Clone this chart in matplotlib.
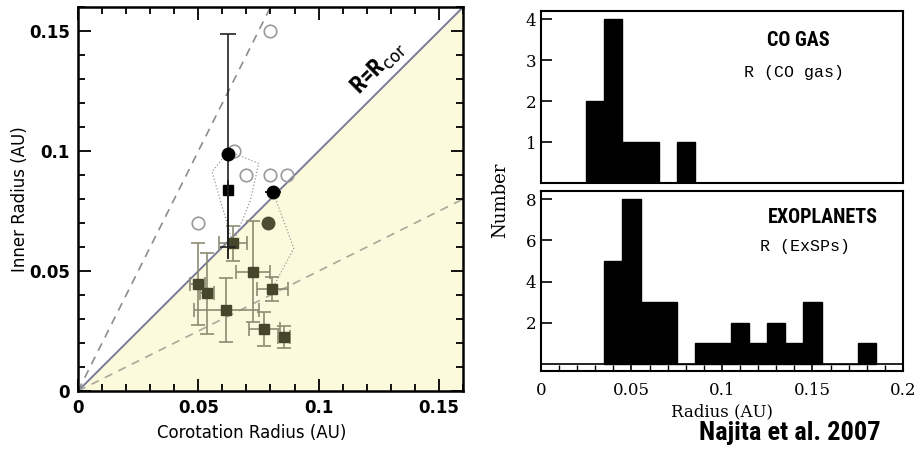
import matplotlib
matplotlib.use("Agg")
import matplotlib.pyplot as plt
import numpy as np
from matplotlib.ticker import MultipleLocator
from matplotlib import font_manager

# ---------------- data: left panel (corotation vs inner radius, AU)
open_x = [0.080, 0.065, 0.070, 0.080, 0.087, 0.050]
open_y = [0.150, 0.100, 0.090, 0.090, 0.090, 0.070]

black_circ_x = [0.0625, 0.081]
black_circ_y = [0.099, 0.083]
black_circ_ylo = [0.039, 0.0]
black_circ_yhi = [0.050, 0.0]

black_sq_x = [0.0625]
black_sq_y = [0.084]
black_sq_ylo = [0.029]
black_sq_yhi = [0.004]

olive_circ_x = [0.079]
olive_circ_y = [0.070]

olive_sq_x = [0.0644, 0.0728, 0.0807, 0.0497, 0.0536, 0.0617, 0.0775, 0.0855]
olive_sq_y = [0.0615, 0.0497, 0.0425, 0.0445, 0.0407, 0.0338, 0.0258, 0.0226]
olive_sq_xerr = [0.0059, 0.0070, 0.0064, 0.0030, 0.0030, 0.0134, 0.0066, 0.0025]
olive_sq_yerr = [0.0075, 0.0210, 0.0050, 0.0170, 0.0170, 0.0135, 0.0070, 0.0045]

# dotted outlines joining measurements of the same stars
poly1_x = [0.0644, 0.0557, 0.0625, 0.0751, 0.0717, 0.0644]
poly1_y = [0.0615, 0.0914, 0.1000, 0.0949, 0.0796, 0.0615]
poly2_x = [0.081, 0.0897, 0.0807]
poly2_y = [0.083, 0.0595, 0.0425]

# ---------------- data: right panels (histograms, bin width 0.01 AU)
co_centers = [0.03, 0.04, 0.05, 0.06, 0.07, 0.08]
co_counts = [2, 4, 1, 1, 0, 1]
exo_centers = [0.04, 0.05, 0.06, 0.07, 0.08, 0.09, 0.10, 0.11, 0.12, 0.13,
               0.14, 0.15, 0.16, 0.17, 0.18]
exo_counts = [5, 8, 3, 3, 0, 1, 1, 2, 1, 2, 1, 3, 0, 0, 1]

# pick a narrow bold face if one is around
installed = {f.name for f in font_manager.fontManager.ttflist}
narrow = next((n for n in ["Liberation Sans Narrow", "DejaVu Sans Condensed",
                           "Roboto Condensed", "Open Sans Condensed"]
               if n in installed), "DejaVu Sans")

fig = plt.figure(figsize=(9.21, 4.51), dpi=100)

############## left panel
ax = fig.add_axes([0.0847, 0.133, 0.418, 0.851])
lim = 0.16
xx = np.array([0, lim])
ax.fill_between(xx, 0, xx, color="#fcfadc", zorder=0)
ax.plot(xx, xx, color="#7b7b98", lw=1.4, zorder=1)
ax.plot(xx / 2.0, xx, color="#8c8c8c", lw=1.2, ls=(0, (5, 4)), zorder=1)
ax.plot(xx, xx / 2.0, color="#a8a89a", lw=1.2, ls=(0, (5, 4)), zorder=1)

ax.plot(poly1_x, poly1_y, color="#999999", lw=0.9, ls=":", zorder=2)
ax.plot(poly2_x, poly2_y, color="#999999", lw=0.9, ls=":", zorder=2)

ax.errorbar(olive_sq_x, olive_sq_y, xerr=olive_sq_xerr, yerr=olive_sq_yerr,
            fmt="s", ms=7, color="#46462c", ecolor="#8c8c74", elinewidth=1.2,
            capsize=5, capthick=1.2, zorder=3)
ax.plot(olive_circ_x, olive_circ_y, "o", ms=9, color="#4d4d33", zorder=4)
ax.errorbar(black_sq_x, black_sq_y, yerr=[black_sq_ylo, black_sq_yhi],
            fmt="s", ms=7, color="black", ecolor="black", elinewidth=1.2,
            capsize=0, zorder=4)
ax.errorbar(black_circ_x, black_circ_y, yerr=[black_circ_ylo, black_circ_yhi],
            fmt="o", ms=9, color="black", ecolor="#222222", elinewidth=1.2,
            capsize=6, capthick=1.2, zorder=5)
ax.plot(open_x, open_y, "o", ms=9, mfc="none", mec="#9a9a9a", mew=1.2, zorder=4)

ax.text(0.125, 0.135, r"R=R$_{\rm cor}$", rotation=45, fontsize=17,
        fontweight="bold", ha="center", va="center", family=narrow)

ax.set_xlim(0, lim)
ax.set_ylim(0, lim)
ax.xaxis.set_minor_locator(MultipleLocator(0.01))
ax.yaxis.set_minor_locator(MultipleLocator(0.01))
ax.tick_params(which="both", direction="in", top=True, right=True, width=1.3)
ax.tick_params(which="major", length=9, labelsize=12, pad=6)
ax.tick_params(which="minor", length=5)
ax.set_xticks([0, 0.05, 0.1, 0.15])
ax.set_xticklabels(["0", "0.05", "0.1", "0.15"])
ax.set_yticks([0, 0.05, 0.1, 0.15])
ax.set_yticklabels(["0", "0.05", "0.1", "0.15"])
for lab in ax.get_xticklabels() + ax.get_yticklabels():
    lab.set_fontweight("bold")
for s in ax.spines.values():
    s.set_linewidth(1.8)
ax.set_xlabel("Corotation Radius (AU)", fontsize=12, labelpad=5)
ax.xaxis.label.set_x(0.45)
ax.set_ylabel("Inner Radius (AU)", fontsize=12, labelpad=0)

############## right panels
axt = fig.add_axes([0.5874, 0.594, 0.393, 0.382])
axb = fig.add_axes([0.5874, 0.1774, 0.393, 0.3998])

axt.bar(co_centers, co_counts, width=0.01, color="black", edgecolor="black", lw=1)
axt.axhline(0, color="black", lw=1.2)
axt.set_xlim(0, 0.2)
axt.set_ylim(0, 4.2)
axt.set_yticks([1, 2, 3, 4])
axt.set_xticks([])

axb.bar(exo_centers, exo_counts, width=0.01, color="black", edgecolor="black", lw=1)
axb.axhline(0, color="black", lw=1.2)
axb.set_xlim(0, 0.2)
axb.set_ylim(-0.34, 8.41)
axb.set_yticks([2, 4, 6, 8])
axb.xaxis.set_minor_locator(MultipleLocator(0.01))
axb.set_xticks([0, 0.05, 0.1, 0.15, 0.2])
axb.set_xticklabels(["0", "0.05", "0.1", "0.15", "0.2"])
axb.tick_params(axis="x", which="major", direction="in", length=7, width=1.2,
                labelsize=12, pad=8)
axb.tick_params(axis="x", which="minor", direction="in", length=4, width=1.0)

for a in (axt, axb):
    a.tick_params(axis="y", direction="in", length=8, width=1.2, labelsize=12)
    for lab in a.get_yticklabels() + a.get_xticklabels():
        lab.set_family("DejaVu Serif")
    for s in a.spines.values():
        s.set_linewidth(1.5)

axb.set_xlabel("Radius (AU)", fontsize=12, family="DejaVu Serif", labelpad=3)
fig.text(0.543, 0.556, "Number", rotation=90, fontsize=13, family="DejaVu Serif",
         ha="center", va="center")

axt.text(0.71, 0.83, "CO GAS", transform=axt.transAxes, fontsize=14.5,
         fontweight="bold", ha="center", va="center", family=narrow)
axt.text(0.70, 0.64, "R (CO gas)", transform=axt.transAxes, fontsize=12,
         ha="center", va="center", family="Liberation Mono")
axb.text(0.78, 0.85, "EXOPLANETS", transform=axb.transAxes, fontsize=14.5,
         fontweight="bold", ha="center", va="center", family=narrow)
axb.text(0.73, 0.69, "R (ExSPs)", transform=axb.transAxes, fontsize=12,
         ha="center", va="center", family="Liberation Mono")

fig.text(0.858, 0.04, "Najita et al. 2007", fontsize=19, fontweight="bold",
         ha="center", va="center", family=narrow)

fig.savefig("out.png", dpi=100)
